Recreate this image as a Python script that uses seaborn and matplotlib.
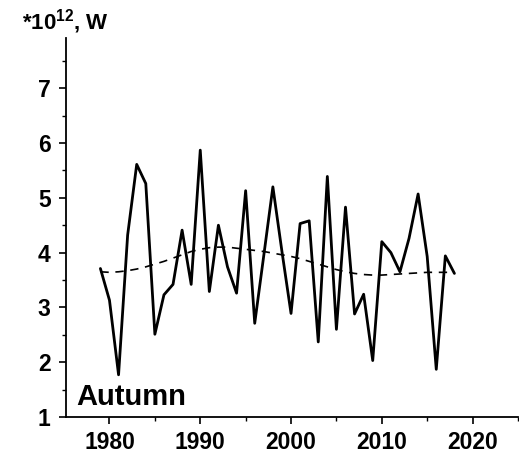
import matplotlib
matplotlib.use("Agg")
import matplotlib.pyplot as plt
import seaborn as sns
import pandas as pd
from matplotlib.ticker import MultipleLocator

years = list(range(1979, 2019))
power = [3.71, 3.13, 1.77, 4.32, 5.61, 5.26, 2.51, 3.23, 3.42, 4.41,
         3.42, 5.87, 3.29, 4.50, 3.74, 3.26, 5.13, 2.71, 3.95, 5.20,
         4.02, 2.89, 4.53, 4.58, 2.37, 5.39, 2.60, 4.83, 2.88, 3.24,
         2.03, 4.20, 4.00, 3.65, 4.26, 5.07, 3.93, 1.87, 3.94, 3.62]
trend = [3.65, 3.64, 3.65, 3.67, 3.70, 3.74, 3.79, 3.84, 3.90, 3.96,
         4.02, 4.06, 4.09, 4.10, 4.10, 4.08, 4.06, 4.04, 4.02, 3.99,
         3.96, 3.93, 3.89, 3.84, 3.79, 3.74, 3.69, 3.65, 3.62, 3.60,
         3.59, 3.59, 3.60, 3.61, 3.62, 3.63, 3.64, 3.64, 3.64, 3.64]
x_ticks = [1980, 1990, 2000, 2010, 2020]
y_ticks = [1, 2, 3, 4, 5, 6, 7]
season = "Autumn"

sns.set_style("ticks")
plt.rcParams['font.family'] = ['Liberation Sans', 'DejaVu Sans']
plt.rcParams['mathtext.fontset'] = 'custom'
plt.rcParams['mathtext.bf'] = 'Liberation Sans:bold'
plt.rcParams['mathtext.rm'] = 'Liberation Sans:bold'
for key in ['text.color', 'xtick.color', 'ytick.color', 'axes.labelcolor',
            'xtick.labelcolor', 'ytick.labelcolor', 'axes.edgecolor']:
    plt.rcParams[key] = 'black'

df = pd.DataFrame({"year": years, "power": power, "trend": trend})

fig = plt.figure(figsize=(5.19, 4.53), dpi=100)
ax = fig.add_axes([0.127, 0.0795, 0.871, 0.837])

sns.lineplot(data=df, x="year", y="power", ax=ax, color="black", linewidth=2.0)
sns.lineplot(data=df, x="year", y="trend", ax=ax, color="black", linewidth=1.2,
             linestyle=(0, (5, 4)))

ax.set_xlim(1975.2, 2025)
ax.set_ylim(1, 7.92)
ax.set_xticks(x_ticks)
ax.set_yticks(y_ticks)
ax.xaxis.set_minor_locator(MultipleLocator(5))
ax.yaxis.set_minor_locator(MultipleLocator(0.5))
ax.tick_params(axis="both", which="major", direction="out", length=5, width=1.2,
               labelsize=16.5, color="black", labelcolor="black")
ax.tick_params(axis="y", which="major", pad=6)
ax.tick_params(axis="x", which="major", pad=5)
ax.tick_params(axis="both", which="minor", direction="out", length=3, width=1.0,
               color="black")
for lab in ax.get_xticklabels() + ax.get_yticklabels():
    lab.set_fontweight("bold")
ax.set_xlabel("")
ax.set_ylabel("")
for s in ["top", "right"]:
    ax.spines[s].set_visible(False)
for s in ["left", "bottom"]:
    ax.spines[s].set_linewidth(1.3)
    ax.spines[s].set_color("black")

ax.text(0.022, 0.015, season, transform=ax.transAxes, fontsize=21,
        fontweight="bold", ha="left", va="bottom", color="black")
fig.text(0.042, 0.952, r"$\mathbf{*10^{12}}$" + ", W", fontsize=16,
         fontweight="bold", ha="left", va="center", color="black")

fig.savefig("out.png", dpi=100)
